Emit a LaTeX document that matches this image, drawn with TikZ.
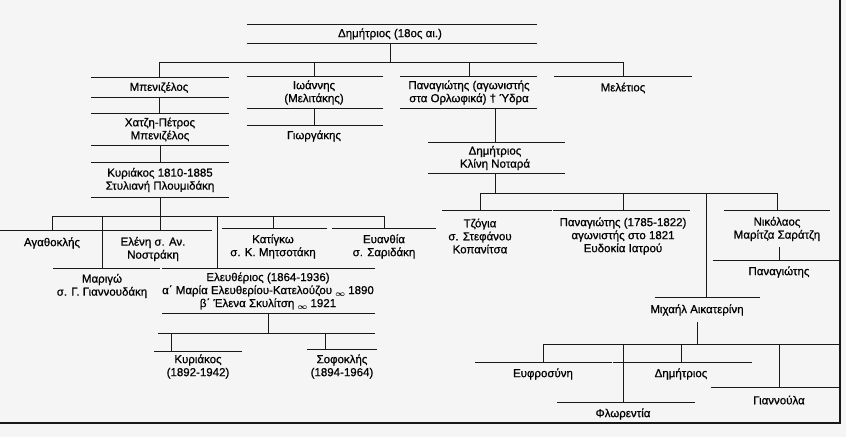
\documentclass[tikz,border=0pt]{standalone}
\usepackage{fontspec}
\setmainfont{Liberation Sans}[FakeBold=0.7]

\tikzset{
  person/.style={inner sep=0pt,align=center,text=black,
    font=\fontsize{11.5}{13}\selectfont},
  famline/.style={line width=1pt,black!90}
}
% rules over and under a name, from x=#2 to x=#3
\newcommand{\ruleover}[3]{\draw[famline] (#2,0 |- #1.north) -- (#3,0 |- #1.north);}
\newcommand{\ruleunder}[3]{\draw[famline] (#2,0 |- #1.south) -- (#3,0 |- #1.south);}
\newcommand{\marr}{\raisebox{-2.5pt}{\footnotesize$\boldsymbol{\infty}$}}
\usepackage{amsmath}

\begin{document}
\begin{tikzpicture}[x=1pt,y=-1pt]
  \fill[black!4] (0,0) rectangle (846,437);
  \useasboundingbox (0,0) rectangle (846,437);

  % Dimitrios and his sons
  \node[person,minimum height=18pt](dim18) at (390,34) {Δημήτριος (18ος αι.)};
  \ruleover{dim18}{247}{537} \ruleunder{dim18}{247}{537}
  \node[person,minimum height=19pt](benizelos) at (159,87.5) {Μπενιζέλος};
  \ruleover{benizelos}{91}{229} \ruleunder{benizelos}{91}{229}
  \node[person,minimum height=31pt](chatzi) at (160,129.5) {Χατζη-Πέτρος\\Μπενιζέλος};
  \ruleover{chatzi}{91}{229} \ruleunder{chatzi}{91}{229}
  \node[person,minimum height=34pt](kyr1810) at (160,180) {Κυριάκος 1810-1885\\Στυλιανή Πλουμιδάκη};
  \ruleover{kyr1810}{91}{229} \ruleunder{kyr1810}{91}{229}
  \node[person,minimum height=31pt](ioannis) at (314,92.5) {Ιωάννης\\(Μελιτάκης)};
  \ruleover{ioannis}{247}{383} \ruleunder{ioannis}{247}{383}
  \node[person,minimum height=20pt](giorgakis) at (314,136) {Γιωργάκης};
  \ruleover{giorgakis}{247}{383}
  \node[person,minimum height=31pt](panorl) at (469,92.5) {Παναγιώτης (αγωνιστής\\στα Ορλωφικά) † Ύδρα};
  \ruleover{panorl}{400}{537} \ruleunder{panorl}{400}{537}
  \node[person,minimum height=22pt](meletios) at (623,88) {Μελέτιος};
  \ruleover{meletios}{554}{692}
  \node[person,minimum height=30pt](dimklini) at (495,158) {Δημήτριος\\Κλίνη Νοταρά};
  \ruleover{dimklini}{428}{565} \ruleunder{dimklini}{428}{565}

  \draw[famline] (dim18.south) -- ++(0,19) coordinate (b1);
  \draw[famline] (benizelos.north) |- (b1) -| (meletios.north);
  \draw[famline] (ioannis.north) -- (ioannis.north |- b1);
  \draw[famline] (panorl.north) -- (panorl.north |- b1);
  \draw[famline] (benizelos.south) -- (benizelos.south |- chatzi.north);
  \draw[famline] (chatzi.south) -- (chatzi.south |- kyr1810.north);
  \draw[famline] (ioannis.south) -- (ioannis.south |- giorgakis.north);
  \draw[famline] (dimklini.north) -- (dimklini.north |- panorl.south);

  % children of Kyriakos
  \node[person,minimum height=24pt](agathoklis) at (52,243) {Αγαθοκλής};
  \ruleover{agathoklis}{0}{104}
  \node[person,minimum height=36pt](eleni) at (153,249) {Ελένη σ. Αν.\\Νοστράκη};
  \ruleover{eleni}{104}{212}
  \node[person,minimum height=35pt](katigo) at (273,246.5) {Κατίγκω\\σ. Κ. Μητσοτάκη};
  \ruleover{katigo}{222}{327}
  \node[person,minimum height=35pt](evanthia) at (384,246.5) {Ευανθία\\σ. Σαριδάκη};
  \ruleover{evanthia}{332}{436}
  \node[person,minimum height=34pt](marigo) at (102,286) {Μαριγώ\\σ. Γ. Γιαννουδάκη};
  \ruleover{marigo}{53}{160}
  \node[person,minimum height=44pt](eleftherios) at (268,291) {Ελευθέριος (1864-1936)\\α΄ Μαρία Ελευθερίου-Κατελούζου \marr{} 1890\\β΄ Έλενα Σκυλίτση \marr{} 1921};
  \ruleover{eleftherios}{162}{375} \ruleunder{eleftherios}{162}{375}

  \draw[famline] (kyr1810.south) -- (kyr1810.south |- eleni.north);
  \path (kyr1810.south) ++(0,19) coordinate (b2);
  \draw[famline] (agathoklis.north) |- (b2) -| (evanthia.north);
  \draw[famline] (katigo.north) -- (katigo.north |- b2);
  \draw[famline] (marigo.north) -- (marigo.north |- b2);
  \draw[famline] (217,0 |- b2) -- (217,0 |- eleftherios.north);

  % children of Eleftherios
  \node[person,minimum height=29pt](kyr1892) at (198,366.5) {Κυριάκος\\(1892-1942)};
  \ruleover{kyr1892}{154}{242}
  \node[person,minimum height=33pt](sofoklis) at (342,366.5) {Σοφοκλής\\(1894-1964)};
  \ruleover{sofoklis}{307}{377}

  \draw[famline] (eleftherios.south) -- ++(0,20) coordinate (b5);
  \draw[famline] (158,0 |- b5) -- (375,0 |- b5);
  \draw[famline] (171,0 |- b5) -- (171,0 |- kyr1892.north);
  \draw[famline] (325,0 |- b5) -- (325,0 |- sofoklis.north);

  % children of Dimitrios and Klini
  \node[person,minimum height=50pt](tzogia) at (480,236) {Τζόγια\\σ. Στεφάνου\\Κοπανίτσα};
  \ruleover{tzogia}{442}{552}
  \node[person,minimum height=50pt](pan1785) at (623,236) {Παναγιώτης (1785-1822)\\αγωνιστής στο 1821\\Ευδοκία Ιατρού};
  \ruleover{pan1785}{553}{690}
  \node[person,minimum height=36pt](nikolaos) at (777,229) {Νικόλαος\\Μαρίτζα Σαράτζη};
  \ruleover{nikolaos}{724}{830}
  \node[person,minimum height=22pt](panag2) at (779,272) {Παναγιώτης};
  \ruleover{panag2}{713}{840}
  \node[person,minimum height=24pt](michail) at (697,310) {Μιχαήλ Αικατερίνη};
  \ruleover{michail}{655}{760}

  \draw[famline] (dimklini.south) -- ++(0,20) coordinate (b3);
  \draw[famline] (tzogia.north) |- (b3) -| (nikolaos.north);
  \draw[famline] (pan1785.north) -- (pan1785.north |- b3);
  \draw[famline] (706,0 |- b3) -- (706,0 |- michail.north);
  \draw[famline] (panag2.north) -- (panag2.north |- nikolaos.south);

  % children of Michail
  \node[person,minimum height=22pt](euphro) at (543,374) {Ευφροσύνη};
  \ruleover{euphro}{475}{612}
  \node[person,minimum height=22pt](dimitrios2) at (681,374) {Δημήτριος};
  \ruleover{dimitrios2}{613}{752}
  \node[person,minimum height=22pt](florentia) at (623,414) {Φλωρεντία};
  \ruleover{florentia}{557}{695}
  \node[person,minimum height=24pt](giannoula) at (779,400) {Γιαννούλα};
  \ruleover{giannoula}{711}{840}

  \draw[famline] (michail.south) -- ++(0,22) coordinate (b4);
  \draw[famline] (euphro.north) |- (b4) -- (840,0 |- b4);
  \draw[famline] (florentia.north) -- (florentia.north |- b4);
  \draw[famline] (dimitrios2.north) -- (dimitrios2.north |- b4);
  \draw[famline] (giannoula.north) -- (giannoula.north |- b4);

  % frame
  \draw[line width=1.2pt,black!90] (840,0) -- (840,423) -- (0,423);
\end{tikzpicture}
\end{document}
